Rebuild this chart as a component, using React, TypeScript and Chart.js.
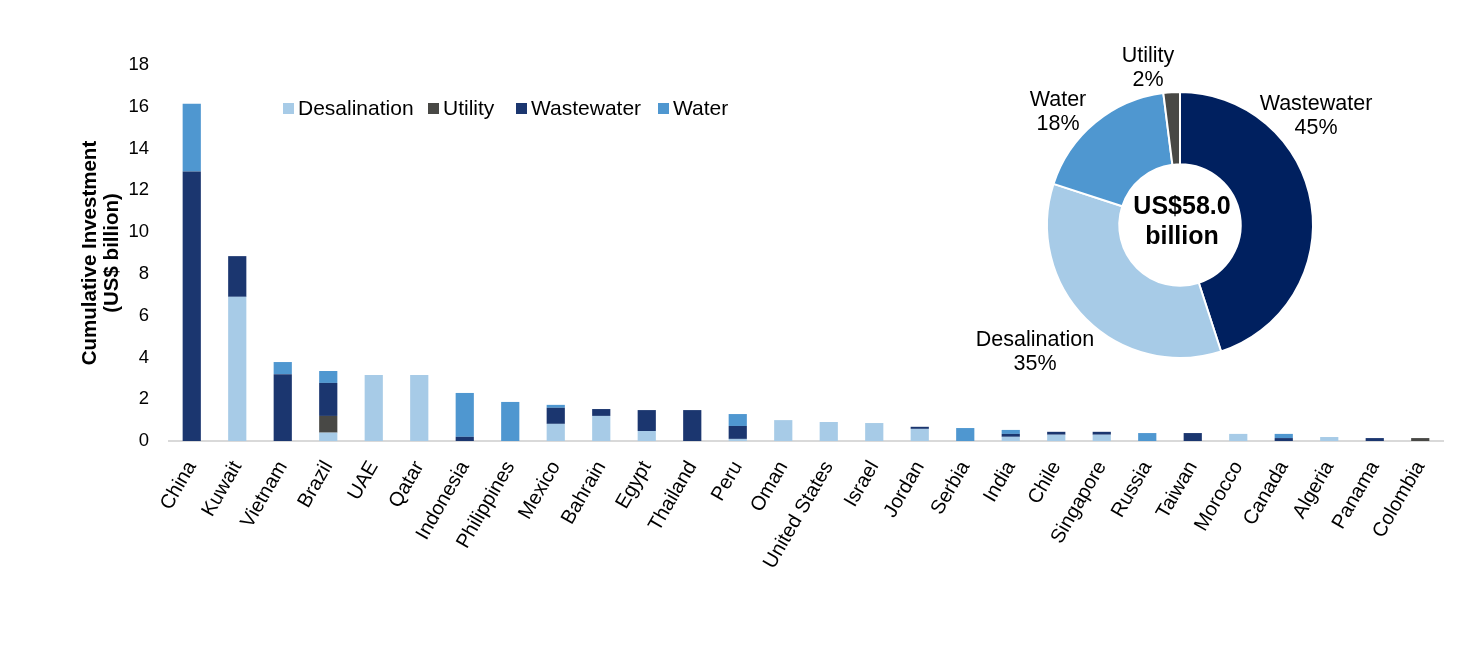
import React, { useEffect, useRef } from 'react';
import Chart from 'chart.js/auto';

const countries = [
  'China', 'Kuwait', 'Vietnam', 'Brazil', 'UAE', 'Qatar', 'Indonesia', 'Philippines',
  'Mexico', 'Bahrain', 'Egypt', 'Thailand', 'Peru', 'Oman', 'United States', 'Israel',
  'Jordan', 'Serbia', 'India', 'Chile', 'Singapore', 'Russia', 'Taiwan', 'Morocco',
  'Canada', 'Algeria', 'Panama', 'Colombia',
];
const desalination = [0, 6.9, 0, 0.4, 3.16, 3.16, 0, 0, 0.82, 1.2, 0.48, 0, 0.1, 1.0, 0.91, 0.86, 0.58, 0, 0.2, 0.3, 0.3, 0, 0, 0.34, 0, 0.19, 0, 0];
const utility = [0, 0, 0, 0.8, 0, 0, 0, 0, 0, 0, 0, 0, 0, 0, 0, 0, 0, 0, 0, 0, 0, 0, 0, 0, 0, 0, 0, 0.14];
const wastewater = [12.9, 1.95, 3.2, 1.58, 0, 0, 0.2, 0, 0.77, 0.33, 1.0, 1.48, 0.62, 0, 0, 0, 0.1, 0, 0.14, 0.14, 0.14, 0, 0.38, 0, 0.14, 0, 0.14, 0];
const water = [3.25, 0, 0.58, 0.57, 0, 0, 2.1, 1.87, 0.14, 0, 0, 0, 0.57, 0, 0, 0, 0, 0.62, 0.19, 0, 0, 0.38, 0, 0, 0.2, 0, 0, 0];
const yMin = 0;
const yMax = 18;
const yStep = 2;

const shareLabels = ['Wastewater', 'Desalination', 'Water', 'Utility'];
const shareValues = [45, 35, 18, 2];
const totalLabel = ['US$58.0', 'billion'];

const FONT = "'Liberation Sans', Arial, sans-serif";
const C_DESAL = '#a7cbe7';
const C_UTIL = '#484845';
const C_WW = '#1b366f';
const C_WATER = '#4f97d0';
const C_WW_PIE = '#00205f';

const legendItems = [
  { label: 'Desalination', color: C_DESAL, x: 283 },
  { label: 'Utility', color: C_UTIL, x: 428 },
  { label: 'Wastewater', color: C_WW, x: 516 },
  { label: 'Water', color: C_WATER, x: 658 },
];

const pieLabelPos = [
  { x: 1316, y: 103 },
  { x: 1035, y: 339 },
  { x: 1058, y: 99 },
  { x: 1148, y: 55 },
];

export default function App() {
  const barRef = useRef<HTMLCanvasElement | null>(null);
  const pieRef = useRef<HTMLCanvasElement | null>(null);

  useEffect(() => {
    document.body.style.margin = '0';
    Chart.defaults.font.family = FONT;
    Chart.defaults.color = '#000';
    const bar = new Chart(barRef.current as HTMLCanvasElement, {
      type: 'bar',
      data: {
        labels: countries,
        datasets: [
          { label: 'Desalination', data: desalination, backgroundColor: C_DESAL },
          { label: 'Utility', data: utility, backgroundColor: C_UTIL },
          { label: 'Wastewater', data: wastewater, backgroundColor: C_WW },
          { label: 'Water', data: water, backgroundColor: C_WATER },
        ],
      },
      options: {
        responsive: false,
        animation: false,
        devicePixelRatio: 1,
        layout: { padding: { left: 0, right: 36, top: 65, bottom: 0 } },
        datasets: { bar: { barPercentage: 0.4, categoryPercentage: 1, borderWidth: 0 } },
        plugins: { legend: { display: false }, tooltip: { enabled: false } },
        scales: {
          x: {
            stacked: true,
            grid: { display: false },
            border: { display: true, color: '#d9d9d9', width: 2 },
            ticks: {
              autoSkip: false,
              maxRotation: 60,
              minRotation: 60,
              padding: 8,
              font: { size: 20 },
              color: '#000',
            },
            afterFit: (s: any) => { s.height = 210; },
          },
          y: {
            stacked: true,
            min: yMin,
            max: yMax,
            grid: { display: false },
            border: { display: false },
            ticks: { stepSize: yStep, padding: 12, font: { size: 18.5 }, color: '#000' },
            title: {
              display: true,
              text: ['Cumulative Investment', '(US$ billion)'],
              font: { size: 20.5, weight: 'bold', lineHeight: 1.1 },
              color: '#000',
              padding: { top: 79, bottom: 0 },
            },
            afterFit: (s: any) => { s.width = 169; },
          },
        },
      },
    });

    const pie = new Chart(pieRef.current as HTMLCanvasElement, {
      type: 'doughnut',
      data: {
        labels: shareLabels,
        datasets: [
          {
            data: shareValues,
            backgroundColor: [C_WW_PIE, C_DESAL, C_WATER, C_UTIL],
            borderColor: '#ffffff',
            borderWidth: 2,
          },
        ],
      },
      options: {
        responsive: false,
        animation: false,
        devicePixelRatio: 1,
        radius: 133,
        cutout: 68,
        plugins: { legend: { display: false }, tooltip: { enabled: false } },
      },
    });

    return () => {
      bar.destroy();
      pie.destroy();
    };
  }, []);

  const text: React.CSSProperties = { fontFamily: FONT, color: '#000', position: 'absolute', whiteSpace: 'nowrap' };

  return (
    <div style={{ position: 'fixed', left: 0, top: 0, width: 1479, height: 651, background: '#fff', overflow: 'hidden' }}>
      <canvas ref={barRef} width={1479} height={651} style={{ position: 'absolute', left: 0, top: 0 }} />
      <canvas ref={pieRef} width={300} height={300} style={{ position: 'absolute', left: 1030, top: 75 }} />
      {legendItems.map((it) => (
        <div key={it.label} style={{ ...text, left: it.x, top: 96, height: 24, display: 'flex', alignItems: 'center', fontSize: 21 }}>
          <span style={{ display: 'inline-block', width: 11, height: 11, background: it.color, marginRight: 4 }} />
          <span>{it.label}</span>
        </div>
      ))}
      {shareLabels.map((l, i) => (
        <div key={l} style={{ ...text, left: pieLabelPos[i].x, top: pieLabelPos[i].y - 12, transform: 'translateX(-50%)', textAlign: 'center', fontSize: 21.5, lineHeight: '24px' }}>
          {l}<br />{shareValues[i]}%
        </div>
      ))}
      <div style={{ ...text, left: 1182, top: 190, transform: 'translateX(-50%)', textAlign: 'center', fontSize: 25, fontWeight: 'bold', lineHeight: '30px' }}>
        {totalLabel[0]}<br />{totalLabel[1]}
      </div>
    </div>
  );
}
